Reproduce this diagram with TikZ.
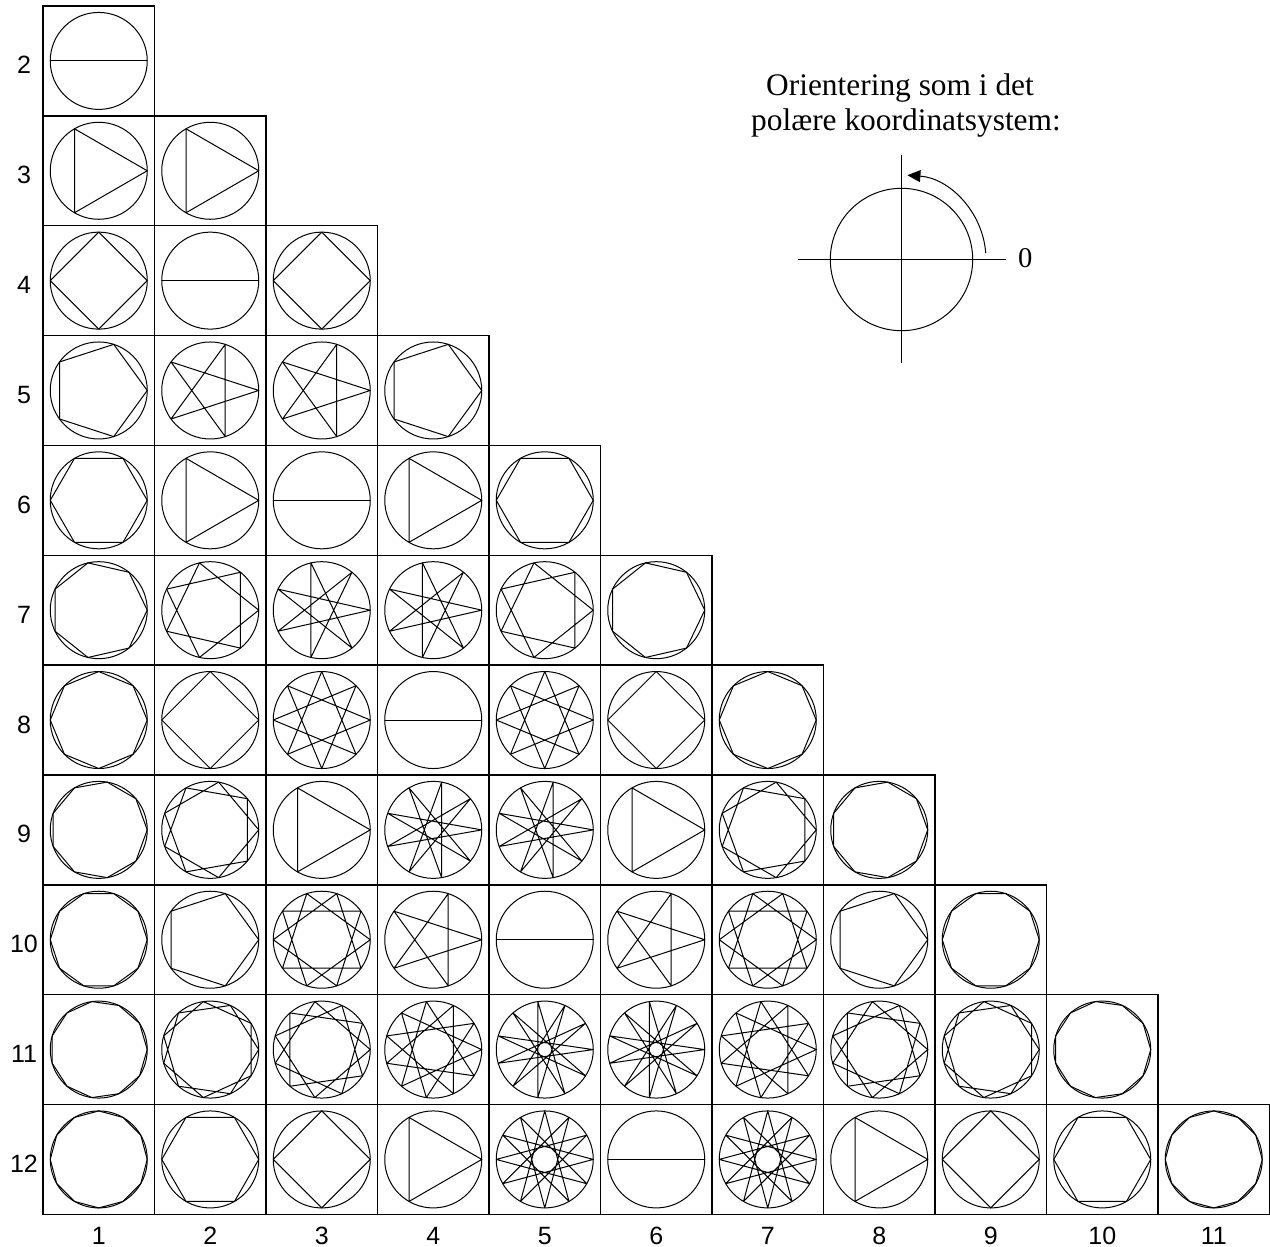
\documentclass[tikz,border=0pt]{standalone}
\usepackage{fontspec}
\setmainfont{Liberation Serif}
\newfontfamily\arialfont{Liberation Sans}
\usepackage{tikz}
\usetikzlibrary{arrows.meta}

\begin{document}
\begin{tikzpicture}[
    x=0.5pt, y=-0.5pt,
    rute/.style={draw, line width=0.7pt},
    sirkel/.style={draw, line width=0.5pt},
    stjerne/.style={draw, line width=0.5pt, line join=round},
    tall/.style={font=\arialfont\fontsize{12.5}{15}\selectfont, inner sep=0pt, anchor=base},
    overskrift/.style={font=\fontsize{15.7}{18}\selectfont, inner sep=0pt, anchor=base},
    akse/.style={draw, line width=0.5pt},
    pil/.style={-{Triangle[length=6.5pt, width=6pt]}, line width=0.5pt}
]
    \useasboundingbox (0,0) rectangle (1270,1247);

    % tabellen: n hjørner, hopp k
    \foreach \n in {2,...,12} {
        \pgfmathtruncatemacro\kmax{\n-1}
        \pgfmathsetmacro\cy{6+(\n-1.5)*109.85}
        \node[tall] (rad\n) at (24,\cy+13) {\n};
        \foreach \k in {1,...,\kmax} {
            \pgfmathsetmacro\cx{43+(\k-0.5)*111.5}
            \pgfmathtruncatemacro\mm{\n/gcd(\n,\k)-1}
            \coordinate (c-\n-\k) at (\cx,\cy);
            \draw[rute] (\cx-55.75,\cy-54.925) rectangle (\cx+55.75,\cy+54.925);
            \draw[sirkel] (c-\n-\k) circle[radius=48.5];
            \draw[stjerne] ([shift={(0:48.5)}]c-\n-\k)
                \foreach \j in {1,...,\mm} { -- ([shift={({mod(\j*\k,\n)*360/\n}:48.5)}]c-\n-\k) } -- cycle;
        }
    }
    \foreach \k in {1,...,11}
        \node[tall] (kol\k) at ({43+(\k-0.5)*111.5},1244) {\k};

    % orientering
    \node[overskrift] (tittel1) at (900,96) {Orientering som i det};
    \node[overskrift] (tittel2) at (906,131) {polære koordinatsystem:};
    \coordinate (origo) at (901.5,259.5);
    \coordinate (vest) at (798,259.5);
    \coordinate (oest) at (1005.5,259.5);
    \coordinate (nord) at (901.5,155.5);
    \coordinate (syd) at (901.5,362.5);
    \draw[sirkel] (origo) circle[radius=71.2];
    \draw[akse] (vest) -- (oest);
    \draw[akse] (nord) -- (syd);
    \draw[pil] ([shift={(-4.3:84.5)}]origo) arc[start angle=-4.3, end angle=-86, radius=84.5];
    \node[font=\fontsize{14.3}{16}\selectfont, inner sep=0pt, anchor=base] (null) at (1025.3,267.5) {0};
\end{tikzpicture}
\end{document}
